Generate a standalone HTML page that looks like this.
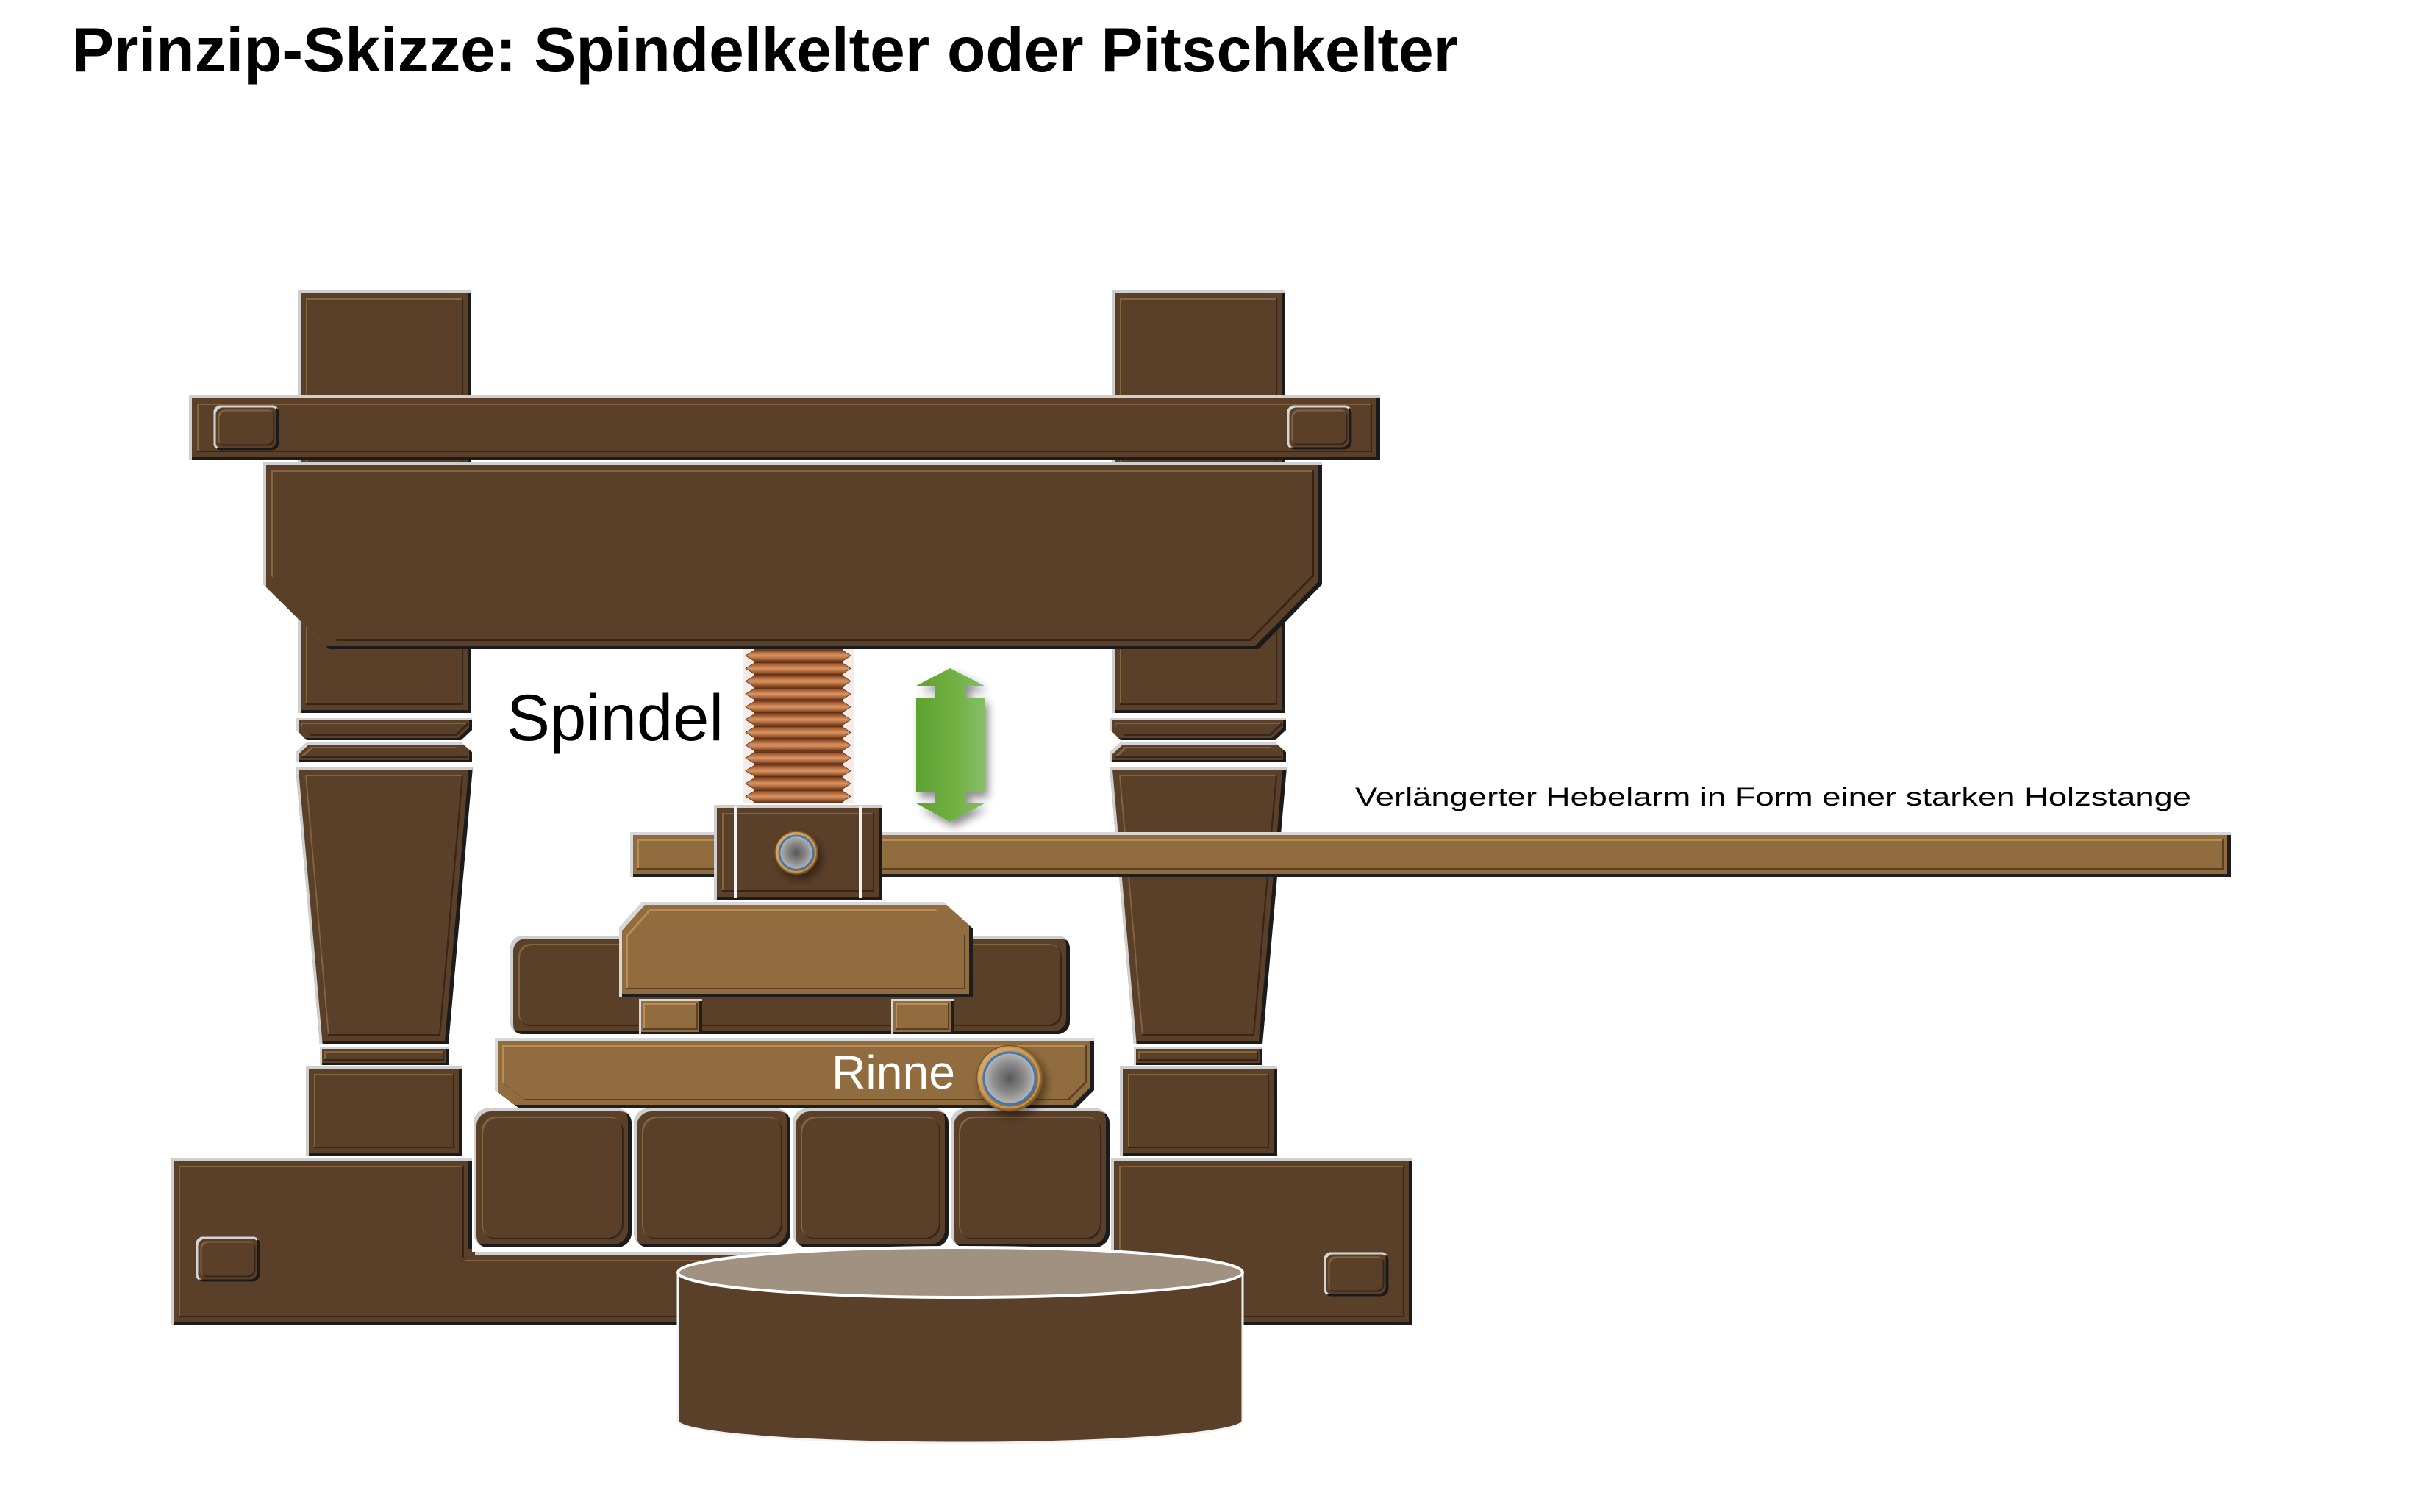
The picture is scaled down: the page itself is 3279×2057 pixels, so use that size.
<!DOCTYPE html>
<html><head><meta charset="utf-8"><style>
html,body{margin:0;padding:0;background:#fff;}
svg{display:block;}
</style></head><body>
<svg width="3279" height="2057" viewBox="0 0 3279 2057" xmlns="http://www.w3.org/2000/svg">
<defs>
 <filter id="bd" color-interpolation-filters="sRGB">
  <feOffset in="SourceAlpha" dx="4" dy="4" result="o1"/>
  <feComposite in="SourceAlpha" in2="o1" operator="out" result="tl"/>
  <feFlood flood-color="#cfcfcf"/>
  <feComposite in2="tl" operator="in" result="tlc"/>
  <feOffset in="SourceAlpha" dx="-5" dy="-4" result="o2"/>
  <feComposite in="SourceAlpha" in2="o2" operator="out" result="br"/>
  <feFlood flood-color="#1b1b1b"/>
  <feComposite in2="br" operator="in" result="brc"/>
  <feMorphology in="SourceAlpha" operator="erode" radius="11" result="e"/>
  <feOffset in="e" dx="2" dy="2" result="e1"/>
  <feComposite in="e" in2="e1" operator="out" result="itl"/>
  <feFlood flood-color="#86643f"/>
  <feComposite in2="itl" operator="in" result="itlc"/>
  <feOffset in="e" dx="-2" dy="-2" result="e2"/>
  <feComposite in="e" in2="e2" operator="out" result="ibr"/>
  <feFlood flood-color="#35251a"/>
  <feComposite in2="ibr" operator="in" result="ibrc"/>
  <feMerge>
   <feMergeNode in="SourceGraphic"/>
   <feMergeNode in="itlc"/>
   <feMergeNode in="ibrc"/>
   <feMergeNode in="brc"/>
   <feMergeNode in="tlc"/>
  </feMerge>
 </filter>
 <filter id="bds" color-interpolation-filters="sRGB">
  <feOffset in="SourceAlpha" dx="3" dy="3" result="o1"/>
  <feComposite in="SourceAlpha" in2="o1" operator="out" result="tl"/>
  <feFlood flood-color="#d4d4d4"/>
  <feComposite in2="tl" operator="in" result="tlc"/>
  <feOffset in="SourceAlpha" dx="-4" dy="-3" result="o2"/>
  <feComposite in="SourceAlpha" in2="o2" operator="out" result="br"/>
  <feFlood flood-color="#1b1b1b"/>
  <feComposite in2="br" operator="in" result="brc"/>
  <feMorphology in="SourceAlpha" operator="erode" radius="6" result="e"/>
  <feOffset in="e" dx="2" dy="2" result="e1"/>
  <feComposite in="e" in2="e1" operator="out" result="itl"/>
  <feFlood flood-color="#86643f"/>
  <feComposite in2="itl" operator="in" result="itlc"/>
  <feOffset in="e" dx="-2" dy="-2" result="e2"/>
  <feComposite in="e" in2="e2" operator="out" result="ibr"/>
  <feFlood flood-color="#35251a"/>
  <feComposite in2="ibr" operator="in" result="ibrc"/>
  <feMerge>
   <feMergeNode in="SourceGraphic"/>
   <feMergeNode in="itlc"/>
   <feMergeNode in="ibrc"/>
   <feMergeNode in="brc"/>
   <feMergeNode in="tlc"/>
  </feMerge>
 </filter>
 <filter id="bl" color-interpolation-filters="sRGB">
  <feOffset in="SourceAlpha" dx="4" dy="4" result="o1"/>
  <feComposite in="SourceAlpha" in2="o1" operator="out" result="tl"/>
  <feFlood flood-color="#d8d8d8"/>
  <feComposite in2="tl" operator="in" result="tlc"/>
  <feOffset in="SourceAlpha" dx="-5" dy="-4" result="o2"/>
  <feComposite in="SourceAlpha" in2="o2" operator="out" result="br"/>
  <feFlood flood-color="#1e1e1e"/>
  <feComposite in2="br" operator="in" result="brc"/>
  <feMorphology in="SourceAlpha" operator="erode" radius="10" result="e"/>
  <feOffset in="e" dx="2" dy="2" result="e1"/>
  <feComposite in="e" in2="e1" operator="out" result="itl"/>
  <feFlood flood-color="#b88d5a"/>
  <feComposite in2="itl" operator="in" result="itlc"/>
  <feOffset in="e" dx="-2" dy="-2" result="e2"/>
  <feComposite in="e" in2="e2" operator="out" result="ibr"/>
  <feFlood flood-color="#5a3f22"/>
  <feComposite in2="ibr" operator="in" result="ibrc"/>
  <feMerge>
   <feMergeNode in="SourceGraphic"/>
   <feMergeNode in="itlc"/>
   <feMergeNode in="ibrc"/>
   <feMergeNode in="brc"/>
   <feMergeNode in="tlc"/>
  </feMerge>
 </filter>
 <filter id="bls" color-interpolation-filters="sRGB">
  <feOffset in="SourceAlpha" dx="3" dy="3" result="o1"/>
  <feComposite in="SourceAlpha" in2="o1" operator="out" result="tl"/>
  <feFlood flood-color="#d8d8d8"/>
  <feComposite in2="tl" operator="in" result="tlc"/>
  <feOffset in="SourceAlpha" dx="-4" dy="-3" result="o2"/>
  <feComposite in="SourceAlpha" in2="o2" operator="out" result="br"/>
  <feFlood flood-color="#1e1e1e"/>
  <feComposite in2="br" operator="in" result="brc"/>
  <feMorphology in="SourceAlpha" operator="erode" radius="6" result="e"/>
  <feOffset in="e" dx="2" dy="2" result="e1"/>
  <feComposite in="e" in2="e1" operator="out" result="itl"/>
  <feFlood flood-color="#b88d5a"/>
  <feComposite in2="itl" operator="in" result="itlc"/>
  <feOffset in="e" dx="-2" dy="-2" result="e2"/>
  <feComposite in="e" in2="e2" operator="out" result="ibr"/>
  <feFlood flood-color="#5a3f22"/>
  <feComposite in2="ibr" operator="in" result="ibrc"/>
  <feMerge>
   <feMergeNode in="SourceGraphic"/>
   <feMergeNode in="itlc"/>
   <feMergeNode in="ibrc"/>
   <feMergeNode in="brc"/>
   <feMergeNode in="tlc"/>
  </feMerge>
 </filter>
 <filter id="sh" x="-30%" y="-30%" width="160%" height="160%">
  <feGaussianBlur in="SourceAlpha" stdDeviation="6"/>
  <feOffset dx="5" dy="7"/>
  <feComponentTransfer><feFuncA type="linear" slope="0.45"/></feComponentTransfer>
  <feMerge><feMergeNode/><feMergeNode in="SourceGraphic"/></feMerge>
 </filter>
 <linearGradient id="grn" x1="0" y1="0" x2="1" y2="0">
  <stop offset="0" stop-color="#5fa233"/>
  <stop offset="0.55" stop-color="#6fb041"/>
  <stop offset="1" stop-color="#87be67"/>
 </linearGradient>
 <linearGradient id="cu" x1="0" y1="0" x2="0" y2="1">
  <stop offset="0" stop-color="#7a3e1e"/>
  <stop offset="0.3" stop-color="#bf7646"/>
  <stop offset="0.5" stop-color="#d99566"/>
  <stop offset="0.75" stop-color="#b06a3c"/>
  <stop offset="1" stop-color="#6e381a"/>
 </linearGradient>
 <linearGradient id="gold" x1="0" y1="0" x2="1" y2="1">
  <stop offset="0" stop-color="#e2b676"/>
  <stop offset="0.5" stop-color="#b1803f"/>
  <stop offset="1" stop-color="#7a5020"/>
 </linearGradient>
 <radialGradient id="steel" cx="0.5" cy="0.5" r="0.5">
  <stop offset="0" stop-color="#585858"/>
  <stop offset="0.6" stop-color="#8c8c8c"/>
  <stop offset="1" stop-color="#b8b8b8"/>
 </radialGradient>
 <clipPath id="spc"><rect x="1010" y="883" width="152" height="209"/></clipPath>
</defs>
<rect width="3279" height="2057" fill="#fff"/>

<!-- posts upper -->
<rect x="405" y="395" width="236" height="575" fill="#5b4029" filter="url(#bd)"/>
<rect x="1512" y="395" width="236" height="575" fill="#5b4029" filter="url(#bd)"/>
<!-- rings -->
<polygon points="403,977 642,977 642,993 627,1007 417,1007 403,993" fill="#5b4029" filter="url(#bds)"/>
<polygon points="417,1010 627,1010 642,1023 642,1037 403,1037 403,1023" fill="#5b4029" filter="url(#bds)"/>
<polygon points="1510,977 1749,977 1749,993 1734,1007 1524,1007 1510,993" fill="#5b4029" filter="url(#bds)"/>
<polygon points="1524,1010 1734,1010 1749,1023 1749,1037 1510,1037 1510,1023" fill="#5b4029" filter="url(#bds)"/>
<!-- tapers -->
<polygon points="402,1043 643,1043 610,1420 435,1420" fill="#5b4029" filter="url(#bd)"/>
<polygon points="1509,1043 1750,1043 1717,1420 1542,1420" fill="#5b4029" filter="url(#bd)"/>
<!-- small rings -->
<rect x="435" y="1424" width="175" height="25" fill="#5b4029" filter="url(#bds)"/>
<rect x="1542" y="1424" width="175" height="25" fill="#5b4029" filter="url(#bds)"/>
<!-- post base blocks -->
<rect x="416" y="1450" width="213" height="123" fill="#5b4029" filter="url(#bd)"/>
<rect x="1523" y="1450" width="214" height="123" fill="#5b4029" filter="url(#bd)"/>
<!-- base -->
<path d="M232,1575 H642 V1703 H1511 V1575 H1921 V1803 H232 Z" fill="#5b4029" filter="url(#bd)"/>
<rect x="268" y="1684" width="84" height="58" rx="8" fill="#5b4029" stroke="#dcdcdc" stroke-width="3" filter="url(#bds)"/>
<rect x="1802" y="1705" width="85" height="57" rx="8" fill="#5b4029" stroke="#dcdcdc" stroke-width="3" filter="url(#bds)"/>

<!-- top beam -->
<rect x="257" y="538" width="1620" height="88" fill="#5b4029" filter="url(#bd)"/>
<rect x="292" y="553" width="86" height="58" rx="8" fill="#5b4029" stroke="#dcdcdc" stroke-width="3" filter="url(#bds)"/>
<rect x="1752" y="553" width="85" height="57" rx="8" fill="#5b4029" stroke="#dcdcdc" stroke-width="3" filter="url(#bds)"/>

<!-- crossbeam -->
<polygon points="358,629 1798,629 1798,795 1712,883 447,883 358,795" fill="#5b4029" filter="url(#bd)"/>

<!-- spindle -->
<rect x="1010" y="883" width="152" height="209" fill="#f4ece8"/>
<g clip-path="url(#spc)">
 <rect x="1026" y="883" width="120" height="209" fill="#8a4a28"/>
 <g fill="url(#cu)" stroke="#5a2c14" stroke-width="0.8">
  <polygon points="1014,892 1027,884 1145,884 1157,892 1145,900 1027,900"/>
  <polygon points="1014,909.4 1027,901.4 1145,901.4 1157,909.4 1145,917.4 1027,917.4"/>
  <polygon points="1014,926.8 1027,918.8 1145,918.8 1157,926.8 1145,934.8 1027,934.8"/>
  <polygon points="1014,944.2 1027,936.2 1145,936.2 1157,944.2 1145,952.2 1027,952.2"/>
  <polygon points="1014,961.6 1027,953.6 1145,953.6 1157,961.6 1145,969.6 1027,969.6"/>
  <polygon points="1014,979 1027,971 1145,971 1157,979 1145,987 1027,987"/>
  <polygon points="1014,996.4 1027,988.4 1145,988.4 1157,996.4 1145,1004.4 1027,1004.4"/>
  <polygon points="1014,1013.8 1027,1005.8 1145,1005.8 1157,1013.8 1145,1021.8 1027,1021.8"/>
  <polygon points="1014,1031.2 1027,1023.2 1145,1023.2 1157,1031.2 1145,1039.2 1027,1039.2"/>
  <polygon points="1014,1048.6 1027,1040.6 1145,1040.6 1157,1048.6 1145,1056.6 1027,1056.6"/>
  <polygon points="1014,1066 1027,1058 1145,1058 1157,1066 1145,1074 1027,1074"/>
  <polygon points="1014,1083.4 1027,1075.4 1145,1075.4 1157,1083.4 1145,1091.4 1027,1091.4"/>
 </g>
</g>

<!-- green arrow -->
<polygon filter="url(#sh)" fill="url(#grn)" points="1292,909 1339,933 1314,933 1314,949 1339,949 1339,1078 1314,1078 1314,1093 1339,1093 1292,1118 1246,1093 1271,1093 1271,1078 1246,1078 1246,949 1271,949 1271,933 1246,933"/>

<!-- lever -->
<rect x="857" y="1132" width="2177" height="61" fill="#916c3f" filter="url(#bl)"/>

<!-- nut block -->
<rect x="971" y="1095" width="229" height="129" fill="#5b4029" filter="url(#bd)"/>
<rect x="998" y="1097" width="4" height="125" fill="#f2f2f2"/>
<rect x="1168" y="1097" width="4" height="125" fill="#f2f2f2"/>
<g filter="url(#sh)">
 <circle cx="1083" cy="1160" r="29" fill="url(#gold)" stroke="#7a5228" stroke-width="1.5"/>
</g>
<circle cx="1083" cy="1160" r="26" fill="none" stroke="#d8aa6c" stroke-width="2" opacity="0.7"/>
<circle cx="1083" cy="1160" r="23" fill="url(#steel)" stroke="#3a78b8" stroke-width="2.5"/>

<!-- press stack -->
<rect x="694" y="1273" width="761" height="134" rx="17" fill="#5b4029" filter="url(#bd)"/>
<polygon points="873,1227 1283,1227 1323,1263 1323,1356 842,1356 842,1262" fill="#916c3f" filter="url(#bl)"/>
<rect x="869" y="1359" width="86" height="48" fill="#916c3f" filter="url(#bls)"/>
<rect x="1212" y="1359" width="85" height="48" fill="#916c3f" filter="url(#bls)"/>

<!-- Rinne bar -->
<polygon points="673,1412 1488,1412 1488,1483 1464,1507 705,1507 673,1483" fill="#916c3f" filter="url(#bl)"/>
<text x="1131" y="1481" font-family="'Liberation Sans', sans-serif" font-size="64" fill="#ffffff" textLength="168" lengthAdjust="spacingAndGlyphs">Rinne</text>

<!-- bottom blocks -->
<rect x="644" y="1508" width="215" height="189" rx="20" fill="#5b4029" filter="url(#bd)"/>
<rect x="862" y="1508" width="213" height="189" rx="20" fill="#5b4029" filter="url(#bd)"/>
<rect x="1078" y="1508" width="212" height="189" rx="20" fill="#5b4029" filter="url(#bd)"/>
<rect x="1293" y="1508" width="216" height="189" rx="20" fill="#5b4029" filter="url(#bd)"/>

<!-- Rinne circle -->
<g filter="url(#sh)">
 <circle cx="1373" cy="1467" r="44.5" fill="url(#gold)" stroke="#7a5228" stroke-width="1.5"/>
</g>
<circle cx="1373" cy="1467" r="40" fill="none" stroke="#d8aa6c" stroke-width="2.5" opacity="0.7"/>
<circle cx="1373" cy="1467" r="35" fill="url(#steel)" stroke="#3a78b8" stroke-width="3"/>

<!-- tub -->
<path d="M922,1731 L922,1933 A384,30 0 0 0 1690,1933 L1690,1731 Z" fill="#5b4029" stroke="#f2f2f2" stroke-width="3"/>
<ellipse cx="1306" cy="1731" rx="384" ry="34" fill="#a19181" stroke="#ffffff" stroke-width="4"/>

<!-- texts -->
<text x="98" y="97" font-family="'Liberation Sans', sans-serif" font-weight="bold" font-size="85" fill="#000" textLength="1885" lengthAdjust="spacingAndGlyphs">Prinzip-Skizze: Spindelkelter oder Pitschkelter</text>
<text x="689" y="1007" font-family="'Liberation Sans', sans-serif" font-size="89" fill="#000" textLength="295" lengthAdjust="spacingAndGlyphs">Spindel</text>
<text x="1843" y="1096" font-family="'Liberation Sans', sans-serif" font-size="35" fill="#000" textLength="1137" lengthAdjust="spacingAndGlyphs">Verlängerter Hebelarm in Form einer starken Holzstange</text>
</svg>
</body></html>
